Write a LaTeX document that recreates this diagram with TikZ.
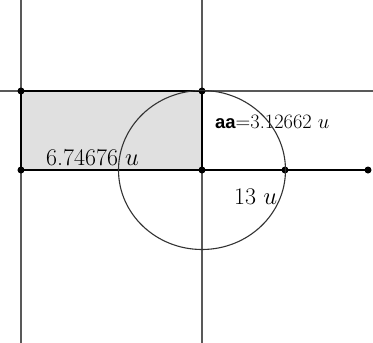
\documentclass[tikz,border=0pt]{standalone}
\usepackage{fontspec}
\newfontfamily\labelsans{Liberation Sans}
\tikzset{
  gridline/.style={draw=black!65, line width=1.3bp},
  rectedge/.style={draw=black, line width=1.4bp},
  pt/.style={circle, fill=black, inner sep=0pt, minimum size=7bp},
  circ/.style={draw=black!80, line width=1.1bp},
  lbl/.style={anchor=base west, inner sep=0pt, font=\fontsize{24}{28}\selectfont},
  smlbl/.style={anchor=base west, inner sep=0pt, font=\fontsize{20.5}{24}\selectfont}
}
\begin{document}
\begin{tikzpicture}[x=1bp,y=-1bp]
\useasboundingbox (0,0) rectangle (373,343);
% ends of lines
\coordinate (v1t) at (21,0);
\coordinate (v1b) at (21,343);
\coordinate (v2t) at (202,0);
\coordinate (v2b) at (202,343);
\coordinate (hl) at (0,91);
\coordinate (hr) at (373,91);
% rectangle
\fill[black!12] (21,91) rectangle (202,170);
% grid lines
\draw[gridline] (v1t) -- (v1b);
\draw[gridline] (v2t) -- (v2b);
\draw[gridline] (hl) -- (hr);
% points
\node[pt] (A) at (21,91) {};
\node[pt] (B) at (202,91) {};
\node[pt] (C) at (21,170) {};
\node[pt] (D) at (202,170) {};
\node[pt] (E) at (285,170) {};
\node[pt] (F) at (368,170) {};
\draw[rectedge] (A.center) -- (B.center) -- (D.center) -- (C.center) -- cycle;
\draw[rectedge] (D.center) -- (F.center);
% labels
\node[lbl] (l1) at (46,165) {6.74676 $u$};
\node[smlbl] (l2) at (215,128) {{\labelsans\fontsize{18.5}{22}\selectfont\bfseries aa}=3.12662 $u$};
\node[lbl] (l3) at (234,204) {13 $u$};
% circle
\draw[circ] (D.center) ellipse [x radius=83.5, y radius=79.5];
\end{tikzpicture}
\end{document}
